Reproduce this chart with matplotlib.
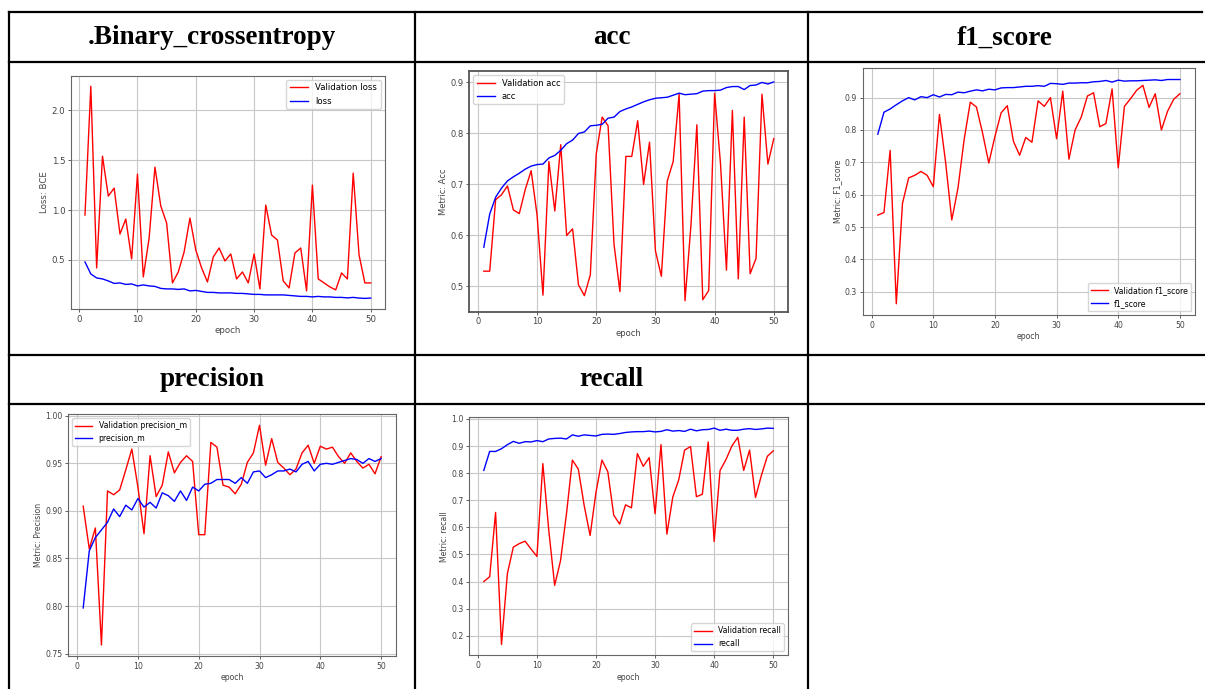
import matplotlib
matplotlib.use("Agg")
import matplotlib.pyplot as plt

W, H = 1205, 689

epochs = list(range(1, 51))

# loss
val_loss = [0.95, 2.24, 0.42, 1.54, 1.14, 1.22, 0.76, 0.91, 0.51, 1.36,
            0.33, 0.72, 1.43, 1.04, 0.87, 0.27, 0.38, 0.58, 0.92, 0.60,
            0.42, 0.28, 0.53, 0.62, 0.49, 0.56, 0.31, 0.38, 0.27, 0.56,
            0.21, 1.05, 0.75, 0.70, 0.29, 0.22, 0.57, 0.62, 0.19, 1.25,
            0.31, 0.27, 0.23, 0.20, 0.37, 0.31, 1.37, 0.55, 0.27, 0.27]
loss = [0.48, 0.36, 0.32, 0.31, 0.29, 0.265, 0.27, 0.255, 0.26, 0.24,
        0.25, 0.24, 0.235, 0.215, 0.21, 0.21, 0.205, 0.21, 0.19, 0.195,
        0.185, 0.175, 0.175, 0.17, 0.17, 0.17, 0.165, 0.165, 0.16, 0.155,
        0.155, 0.15, 0.15, 0.15, 0.15, 0.145, 0.14, 0.135, 0.135, 0.13,
        0.135, 0.13, 0.13, 0.125, 0.125, 0.12, 0.125, 0.118, 0.115, 0.118]

# acc
val_acc = [0.53, 0.53, 0.67, 0.68, 0.697, 0.65, 0.643, 0.69, 0.727, 0.64,
           0.483, 0.745, 0.648, 0.778, 0.60, 0.613, 0.503, 0.482, 0.523, 0.76,
           0.832, 0.815, 0.583, 0.49, 0.755, 0.755, 0.825, 0.70, 0.783, 0.57,
           0.52, 0.707, 0.745, 0.877, 0.472, 0.62, 0.817, 0.474, 0.492, 0.879,
           0.74, 0.532, 0.845, 0.515, 0.832, 0.525, 0.555, 0.877, 0.74, 0.79]
acc = [0.577, 0.642, 0.675, 0.693, 0.707, 0.715, 0.722, 0.73, 0.736, 0.739,
       0.74, 0.752, 0.757, 0.767, 0.78, 0.787, 0.80, 0.803, 0.815, 0.816,
       0.818, 0.83, 0.832, 0.843, 0.848, 0.852, 0.857, 0.862, 0.866, 0.869,
       0.870, 0.871, 0.875, 0.879, 0.876, 0.877, 0.878, 0.883, 0.884, 0.884,
       0.885, 0.89, 0.892, 0.892, 0.886, 0.894, 0.895, 0.90, 0.897, 0.901]

# f1_score
val_f1 = [0.537, 0.545, 0.737, 0.263, 0.573, 0.652, 0.66, 0.672, 0.66, 0.625,
          0.848, 0.70, 0.522, 0.62, 0.77, 0.886, 0.871, 0.79, 0.698, 0.78,
          0.853, 0.875, 0.765, 0.722, 0.777, 0.762, 0.89, 0.873, 0.90, 0.773,
          0.92, 0.71, 0.80, 0.84, 0.905, 0.915, 0.81, 0.82, 0.927, 0.683,
          0.873, 0.897, 0.923, 0.938, 0.87, 0.912, 0.80, 0.858, 0.895, 0.912]
f1 = [0.787, 0.855, 0.865, 0.878, 0.89, 0.90, 0.893, 0.903, 0.90, 0.909,
      0.902, 0.91, 0.909, 0.917, 0.915, 0.92, 0.924, 0.921, 0.926, 0.924,
      0.93, 0.931, 0.931, 0.933, 0.935, 0.935, 0.937, 0.935, 0.944, 0.943,
      0.941, 0.945, 0.945, 0.946, 0.946, 0.949, 0.95, 0.953, 0.948, 0.954,
      0.951, 0.952, 0.952, 0.953, 0.954, 0.955, 0.953, 0.956, 0.956, 0.956]

# precision
val_prec = [0.905, 0.86, 0.882, 0.759, 0.921, 0.917, 0.922, 0.943, 0.965, 0.925,
            0.876, 0.958, 0.915, 0.927, 0.962, 0.940, 0.951, 0.958, 0.952, 0.875,
            0.875, 0.972, 0.967, 0.927, 0.925, 0.918, 0.928, 0.951, 0.961, 0.990,
            0.948, 0.976, 0.951, 0.945, 0.938, 0.944, 0.961, 0.969, 0.950, 0.968,
            0.965, 0.967, 0.957, 0.950, 0.961, 0.952, 0.945, 0.949, 0.939, 0.957]
prec = [0.798, 0.858, 0.872, 0.88, 0.888, 0.902, 0.894, 0.906, 0.901, 0.913,
        0.904, 0.909, 0.903, 0.919, 0.916, 0.91, 0.921, 0.911, 0.925, 0.921,
        0.928, 0.929, 0.933, 0.933, 0.933, 0.929, 0.935, 0.929, 0.941, 0.942,
        0.935, 0.938, 0.942, 0.942, 0.944, 0.941, 0.949, 0.952, 0.942, 0.949,
        0.950, 0.949, 0.951, 0.953, 0.955, 0.954, 0.950, 0.955, 0.952, 0.955]

# recall
val_rec = [0.40, 0.418, 0.655, 0.168, 0.43, 0.527, 0.54, 0.549, 0.52, 0.493,
           0.835, 0.59, 0.386, 0.478, 0.65, 0.848, 0.815, 0.68, 0.57, 0.73,
           0.848, 0.805, 0.645, 0.612, 0.683, 0.672, 0.872, 0.825, 0.857, 0.65,
           0.905, 0.575, 0.712, 0.775, 0.885, 0.898, 0.713, 0.722, 0.915, 0.548,
           0.81, 0.85, 0.90, 0.932, 0.81, 0.885, 0.71, 0.792, 0.862, 0.882]
rec = [0.81, 0.88, 0.88, 0.89, 0.905, 0.917, 0.91, 0.916, 0.915, 0.92,
       0.916, 0.926, 0.928, 0.929, 0.926, 0.941, 0.936, 0.941, 0.939, 0.937,
       0.943, 0.944, 0.943, 0.946, 0.95, 0.952, 0.953, 0.953, 0.955, 0.952,
       0.954, 0.96, 0.955, 0.957, 0.954, 0.962, 0.956, 0.96, 0.961, 0.966,
       0.958, 0.962, 0.958, 0.958, 0.962, 0.964, 0.961, 0.963, 0.966, 0.965]

headers = [".Binary_crossentropy", "acc", "f1_score", "precision", "recall"]

fig = plt.figure(figsize=(W / 100, H / 100), dpi=100)

# background axes for the table grid, pixel coordinates
bg = fig.add_axes([0, 0, 1, 1])
bg.set_xlim(0, W)
bg.set_ylim(H, 0)
bg.axis("off")
lw = 1.6
bg.plot([9, 1202], [12, 12], color="black", lw=lw)
for yy in [62, 355, 403.5]:
    bg.plot([9, W], [yy, yy], color="black", lw=lw)
for xx in [9, 415, 808]:
    bg.plot([xx, xx], [12, H], color="black", lw=lw)

head_pos = [(212, 38), (611.5, 38), (1005, 38), (212, 380), (611.5, 380)]
for txt, (hx, hy) in zip(headers, head_pos):
    bg.text(hx, hy, txt, ha="center", va="center", fontsize=19.5,
            fontweight="bold", family="Liberation Serif")


def make_ax(l, t, r, b):
    return fig.add_axes([l / W, 1 - b / H, (r - l) / W, (b - t) / H])


def draw(ax, val, train, vlabel, tlabel, ylabel, loc, fs):
    ax.plot(epochs, val, color="red", lw=1.0, label=vlabel)
    ax.plot(epochs, train, color="blue", lw=1.0, label=tlabel)
    ax.grid(True, color="#c8c8c8", lw=0.8)
    ax.set_xlabel("epoch", fontsize=fs, color="#444444", labelpad=2)
    ax.set_ylabel(ylabel, fontsize=fs, color="#444444", labelpad=2)
    ax.tick_params(labelsize=fs, colors="#444444", length=2.5, width=0.6, pad=1.5)
    for s in ax.spines.values():
        s.set_color("#666666")
        s.set_linewidth(0.8)
    ax.legend(loc=loc, fontsize=fs, handlelength=2.2)


ax1 = make_ax(70.7, 75.7, 385, 309)
draw(ax1, val_loss, loss, "Validation loss", "loss", "Loss: BCE", "upper right", 6.2)

ax2 = make_ax(469.3, 71, 788.3, 311.7)
draw(ax2, val_acc, acc, "Validation acc", "acc", "Metric: Acc", "upper left", 6.0)
for s in ax2.spines.values():
    s.set_color("#555555")
    s.set_linewidth(1.3)

ax3 = make_ax(862.7, 68.3, 1195, 315)
draw(ax3, val_f1, f1, "Validation f1_score", "f1_score", "Metric: F1_score", "lower right", 5.6)

ax4 = make_ax(68.3, 414.3, 396, 656)
draw(ax4, val_prec, prec, "Validation precision_m", "precision_m", "Metric: Precision", "upper left", 5.6)

ax5 = make_ax(469.3, 417.3, 787.7, 655.3)
draw(ax5, val_rec, rec, "Validation recall", "recall", "Metric: recall", "lower right", 5.6)

fig.savefig("out.png", dpi=100)
